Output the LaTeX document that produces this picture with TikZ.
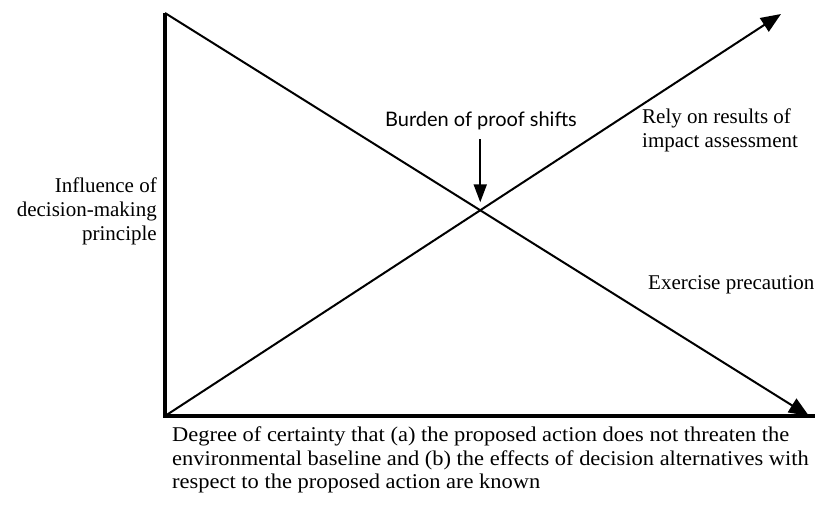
\documentclass[tikz,border=0pt]{standalone}
\usepackage{fontspec}
\setmainfont{Liberation Serif}
\newfontfamily\labelfont{Lato}
\newfontfamily\widefont[FakeStretch=1.07]{Liberation Serif}
\usetikzlibrary{arrows.meta,positioning,intersections}

\begin{document}
\begin{tikzpicture}[x=1pt, y=-1pt,
  axis/.style={line width=4.5pt, line join=miter},
  trend/.style={line width=2pt, -{Triangle[length=20pt,width=16pt]}},
  txt/.style={font=\fontsize{21}{24}\selectfont, inner sep=0pt},
  arrow/.style={line width=2pt, -{Triangle[length=18pt,width=13pt]}}
]
  \useasboundingbox (0,0) rectangle (818,504);

  \coordinate (origin) at (165,416);
  \coordinate (ytop) at (165,13);
  \coordinate (xend) at (815,416);
  \coordinate (risetip) at (781,14);
  \coordinate (falltip) at (809,416);

  \draw[trend, name path=rise] (origin) -- (risetip);
  \draw[trend, name path=fall] (ytop) -- (falltip);
  \path[name intersections={of=rise and fall, by=cross}];
  \draw[axis] (ytop) -- (origin) -- (xend);

  \node[txt, font=\labelfont\fontsize{20}{24}\selectfont] (burden) at (481,121) {Burden of proof shifts};
  \node[txt, anchor=west, align=left] (rely) at (642,130) {Rely on results of\\impact assessment};
  \node[txt, anchor=west] (precaution) at (648,285) {Exercise precaution};
  \node[txt, anchor=east, align=right] (influence) at (157,211) {Influence of\\decision-making\\principle};
  \node[txt, font=\widefont\fontsize{21}{23.5}\selectfont, anchor=north west, align=left] (certainty) at (172,427) {Degree of certainty that (a) the proposed action does not threaten the\\environmental baseline and (b) the effects of decision alternatives with\\respect to the proposed action are known};

  \draw[arrow] ([yshift=-9pt]burden.south -| cross) -- ([yshift=8pt]cross);
\end{tikzpicture}
\end{document}
